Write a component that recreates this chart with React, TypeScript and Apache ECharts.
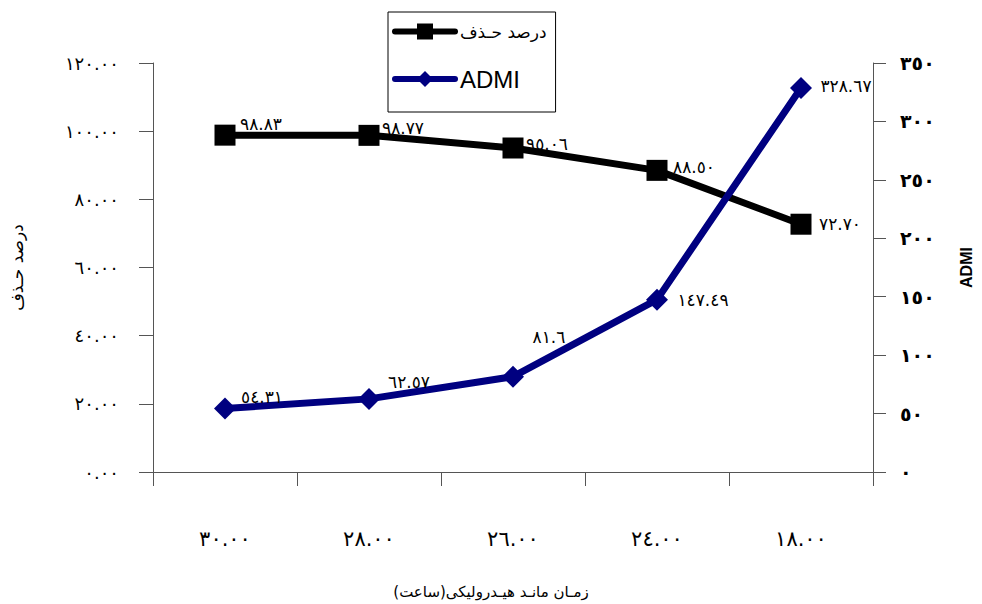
import React, { useEffect, useRef } from "react";
import * as echarts from "echarts";

const categories = ["٣٠.٠٠", "٢٨.٠٠", "٢٦.٠٠", "٢٤.٠٠", "١٨.٠٠"];
const removalName = "درصد حـذف";
const admiName = "ADMI";
const removal = [98.83, 98.77, 95.06, 88.5, 72.7];
const admi = [54.31, 62.57, 81.6, 147.49, 328.67];
const removalLabels = ["٩٨.٨٣", "٩٨.٧٧", "٩٥.٠٦", "٨٨.٥٠", "٧٢.٧٠"];
const admiLabels = ["٥٤.٣١", "٦٢.٥٧", "٨١.٦", "١٤٧.٤٩", "٣٢٨.٦٧"];
const xTitle = "زمـان مانـد هیـدرولیکی(ساعت)";
const leftTitle = "درصد حـذف";
const rightTitle = "ADMI";

// label offsets (style only)
const removalOffsets = [[36, -11], [34, -7], [34, -4], [37, -3], [39, 0]];
const admiOffsets = [[37, -12], [40, -17], [36, -40], [46, 0], [45, -2]];

const AR = "٠١٢٣٤٥٦٧٨٩";
const toAr = (s: string) => s.replace(/[0-9]/g, (d) => AR[Number(d)]);

export default function App() {
  const ref = useRef<HTMLDivElement>(null);
  useEffect(() => {
    if (!ref.current) return;
    const chart = echarts.init(ref.current, undefined, { renderer: "svg" });
    const axisColor = "#555";
    chart.setOption({
      animation: false,
      backgroundColor: "#fff",
      grid: { left: 152, right: 97, top: 63, bottom: 132 },
      legend: {
        orient: "vertical",
        left: 388,
        top: 12,
        padding: [11, 9, 21, 4],
        itemWidth: 60,
        itemHeight: 20,
        itemGap: 27,
        borderColor: "#000",
        borderWidth: 1,
        backgroundColor: "#fff",
        lineStyle: { width: 6, cap: "round" },
        data: [
          { name: removalName, textStyle: { fontSize: 17, fontFamily: "DejaVu Sans", color: "#000" } },
          { name: admiName, textStyle: { fontSize: 24, fontFamily: "Liberation Sans", color: "#000" } },
        ],
      },
      xAxis: {
        type: "category",
        data: categories,
        boundaryGap: true,
        axisLine: { lineStyle: { color: axisColor, width: 1 } },
        axisTick: { show: true, length: 14, lineStyle: { color: axisColor } },
        axisLabel: { margin: 56, fontSize: 21, color: "#000", fontFamily: "DejaVu Sans" },
        name: xTitle,
        nameLocation: "middle",
        nameGap: 112,
        nameTextStyle: { fontSize: 15, color: "#000", fontFamily: "DejaVu Sans", padding: [0, 44, 0, 0] },
        splitLine: { show: false },
      },
      yAxis: [
        {
          type: "value",
          min: 0,
          max: 120,
          interval: 20,
          position: "left",
          axisLine: { show: true, lineStyle: { color: axisColor } },
          axisTick: { show: true, length: 14, lineStyle: { color: axisColor } },
          axisLabel: {
            margin: 34,
            fontSize: 18,
            color: "#000",
            fontFamily: "DejaVu Sans",
            formatter: (v: number) => toAr(v.toFixed(2)),
          },
          splitLine: { show: false },
          name: leftTitle,
          nameLocation: "middle",
          nameGap: 128,
          nameRotate: 90,
          nameTextStyle: { fontSize: 17, color: "#000", fontFamily: "DejaVu Sans" },
        },
        {
          type: "value",
          min: 0,
          max: 350,
          interval: 50,
          position: "right",
          axisLine: { show: true, lineStyle: { color: axisColor } },
          axisTick: { show: true, length: 13, lineStyle: { color: axisColor } },
          axisLabel: {
            margin: 27,
            fontSize: 19,
            fontWeight: "bold",
            color: "#000",
            fontFamily: "DejaVu Sans",
            formatter: (v: number) => toAr(String(v)),
          },
          splitLine: { show: false },
          name: rightTitle,
          nameLocation: "middle",
          nameGap: 85,
          nameRotate: 90,
          nameTextStyle: { fontSize: 16, fontWeight: "bold", color: "#000", fontFamily: "Liberation Sans" },
        },
      ],
      series: [
        {
          name: removalName,
          type: "line",
          yAxisIndex: 0,
          symbol: "rect",
          symbolSize: 21,
          lineStyle: { color: "#000", width: 7 },
          itemStyle: { color: "#000" },
          data: removal.map((v, i) => ({
            value: v,
            label: {
              show: true,
              position: "inside",
              offset: removalOffsets[i],
              formatter: () => removalLabels[i],
              color: "#000",
              fontSize: 17,
              fontFamily: "DejaVu Sans",
            },
          })),
        },
        {
          name: admiName,
          type: "line",
          yAxisIndex: 1,
          symbol: "diamond",
          symbolSize: 22,
          lineStyle: { color: "#000080", width: 7 },
          itemStyle: { color: "#000080" },
          data: admi.map((v, i) => ({
            value: v,
            label: {
              show: true,
              position: "inside",
              offset: admiOffsets[i],
              formatter: () => admiLabels[i],
              color: "#000",
              fontSize: 17,
              fontFamily: "DejaVu Sans",
            },
          })),
        },
      ],
    });
    return () => chart.dispose();
  }, []);
  return (
    <div
      ref={ref}
      style={{ position: "fixed", left: 0, top: 0, width: 982, height: 604, background: "#fff" }}
    />
  );
}
